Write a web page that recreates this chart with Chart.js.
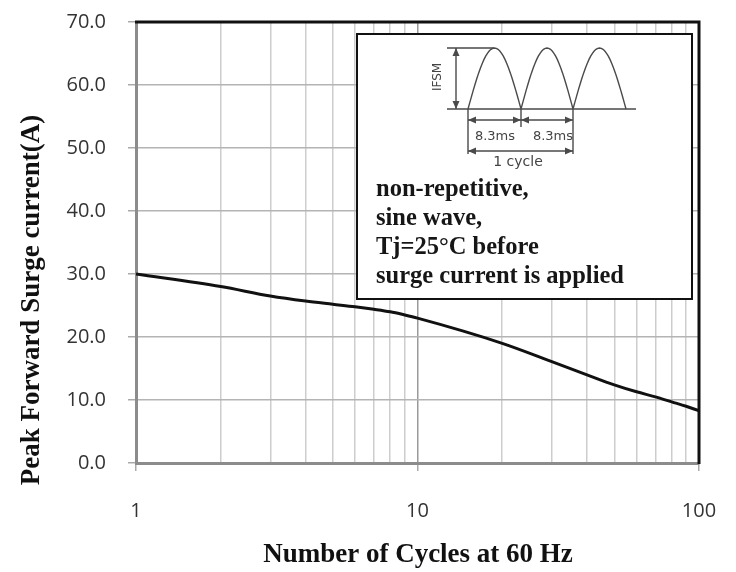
<!DOCTYPE html>
<html>
<head>
<meta charset="utf-8">
<title>Peak Forward Surge current</title>
<script src="https://cdn.jsdelivr.net/npm/chart.js@4.4.1/dist/chart.umd.min.js"></script>
<style>
    html, body { margin: 0; padding: 0; background: #fff; }
    #wrap { width: 736px; height: 572px; position: relative; }
</style>
</head>
<body>
<div id="wrap"><canvas id="surgeChart"></canvas></div>
<script>
// dados
const cycles = [1, 2, 3, 4, 5, 6, 7, 8, 9, 10, 20, 30, 40, 50, 60, 70, 80, 90, 100];
const surgeCurrent = [30.0, 28.0, 26.5, 25.7, 25.2, 24.8, 24.4, 24.0, 23.5, 23.0, 19.0, 16.1, 14.0, 12.4, 11.3, 10.5, 9.7, 9.0, 8.3];

// linhas de grade verticais e rótulos do eixo x
const xGridValues = [1, 2, 3, 4, 5, 6, 7, 8, 9, 10, 20, 30, 40, 50, 60, 70, 80, 90, 100];
const xTickLabels = [1, 10, 100];
const yTickStep = 10;

const xTitle = 'Number of Cycles at 60 Hz';
const yTitle = 'Peak Forward Surge current(A)';
const noteLines = ['non-repetitive,', 'sine wave,', 'Tj=25°C before', 'surge current is applied'];

// zerar o padding automático das escalas (o layout usa o padding fixo)
function resetScalePadding(scale) {
    scale.paddingTop = 0;
    scale.paddingBottom = 0;
    scale.paddingLeft = 0;
    scale.paddingRight = 0;
}

// Plugin para títulos, bordas e o quadro de observações
const decorPlugin = {
    id: 'decor',
    afterDatasetsDraw(chart) {
        const ctx = chart.ctx;
        const a = chart.chartArea;
        ctx.save();
        ctx.strokeStyle = '#111';
        ctx.lineWidth = 3;
        ctx.beginPath();
        ctx.moveTo(a.left - 1, a.top);
        ctx.lineTo(a.right, a.top);
        ctx.lineTo(a.right, a.bottom + 1);
        ctx.stroke();
        ctx.restore();
    },
    afterDraw(chart) {
        const ctx = chart.ctx;
        ctx.save();

        // título do eixo x
        ctx.fillStyle = '#111';
        ctx.font = 'bold 27px "Liberation Serif", "Times New Roman", serif';
        ctx.textAlign = 'center';
        ctx.textBaseline = 'middle';
        ctx.fillText(xTitle, 418, 555);

        // título do eixo y
        ctx.save();
        ctx.translate(32, 300);
        ctx.rotate(-Math.PI / 2);
        ctx.fillText(yTitle, 0, 0);
        ctx.restore();

        // quadro de observações
        const bx = 357, by = 34, bw = 335, bh = 265;
        ctx.fillStyle = '#fff';
        ctx.fillRect(bx, by, bw, bh);
        ctx.strokeStyle = '#111';
        ctx.lineWidth = 2;
        ctx.strokeRect(bx, by, bw, bh);

        drawWave(ctx);

        ctx.fillStyle = '#161616';
        ctx.font = 'bold 24.5px "Liberation Serif", "Times New Roman", serif';
        ctx.textAlign = 'left';
        ctx.textBaseline = 'middle';
        noteLines.forEach((line, i) => {
            ctx.fillText(line, 376, 190 + i * 29);
        });

        ctx.restore();
    }
};

// desenho da forma de onda (ilustração do quadro)
function drawWave(ctx) {
    const base = 109, peak = 48;
    const edges = [468, 521, 573, 626];
    ctx.save();
    ctx.strokeStyle = '#4a4a4a';
    ctx.fillStyle = '#4a4a4a';
    ctx.lineWidth = 1.4;

    ctx.beginPath();
    ctx.moveTo(447, base);
    ctx.lineTo(636, base);
    ctx.moveTo(447, peak);
    ctx.lineTo(494, peak);
    ctx.stroke();

    ctx.beginPath();
    for (let i = 0; i < 3; i++) {
        const x0 = edges[i], x1 = edges[i + 1];
        for (let s = 0; s <= 30; s++) {
            const t = s / 30;
            const x = x0 + (x1 - x0) * t;
            const y = base - (base - peak) * Math.sin(Math.PI * t);
            if (s === 0) ctx.moveTo(x, y); else ctx.lineTo(x, y);
        }
    }
    ctx.stroke();

    // linhas de cota
    ctx.beginPath();
    ctx.moveTo(468, base); ctx.lineTo(468, 154);
    ctx.moveTo(521, base); ctx.lineTo(521, 127);
    ctx.moveTo(573, base); ctx.lineTo(573, 154);
    ctx.stroke();

    arrowLine(ctx, 456, peak, 456, base);
    arrowLine(ctx, 468, 120, 521, 120);
    arrowLine(ctx, 521, 120, 573, 120);
    arrowLine(ctx, 468, 151, 573, 151);

    ctx.fillStyle = '#444';
    ctx.font = '13px "DejaVu Sans", Arial, sans-serif';
    ctx.textAlign = 'center';
    ctx.textBaseline = 'middle';
    ctx.fillText('8.3ms', 495, 137);
    ctx.fillText('8.3ms', 553, 137);
    ctx.font = '14px "DejaVu Sans", Arial, sans-serif';
    ctx.fillText('1 cycle', 518, 162);

    ctx.save();
    ctx.translate(438, 77);
    ctx.rotate(-Math.PI / 2);
    ctx.font = '12px "DejaVu Sans", Arial, sans-serif';
    ctx.fillText('IFSM', 0, 0);
    ctx.restore();

    ctx.restore();
}

function arrowLine(ctx, x1, y1, x2, y2) {
    const ang = Math.atan2(y2 - y1, x2 - x1);
    const h = 8, w = 3.5;
    ctx.beginPath();
    ctx.moveTo(x1, y1);
    ctx.lineTo(x2, y2);
    ctx.stroke();
    [[x1, y1, ang + Math.PI], [x2, y2, ang]].forEach(([x, y, a]) => {
        ctx.beginPath();
        ctx.moveTo(x, y);
        ctx.lineTo(x - h * Math.cos(a) + w * Math.sin(a), y - h * Math.sin(a) - w * Math.cos(a));
        ctx.lineTo(x - h * Math.cos(a) - w * Math.sin(a), y - h * Math.sin(a) + w * Math.cos(a));
        ctx.closePath();
        ctx.fill();
    });
}

const ctx = document.getElementById('surgeChart').getContext('2d');
window.surgeChart = new Chart(ctx, {
    type: 'line',
    data: {
        datasets: [{
            data: cycles.map((c, i) => ({ x: c, y: surgeCurrent[i] })),
            borderColor: '#111',
            borderWidth: 3,
            pointRadius: 0,
            cubicInterpolationMode: 'monotone',
            fill: false
        }]
    },
    options: {
        responsive: true,
        maintainAspectRatio: false,
        animation: false,
        layout: {
            padding: { top: 22, right: 37, left: 0, bottom: 0 }
        },
        plugins: {
            legend: { display: false },
            tooltip: { enabled: false }
        },
        scales: {
            x: {
                type: 'logarithmic',
                min: 1,
                max: 100,
                afterBuildTicks: function(scale) {
                    scale.ticks = xGridValues.map(v => ({ value: v }));
                },
                afterFit: function(scale) {
                    scale.height = 109;
                    resetScalePadding(scale);
                },
                ticks: {
                    autoSkip: false,
                    maxRotation: 0,
                    padding: 28,
                    color: '#333',
                    font: { family: '"Open Sans", sans-serif', size: 20 },
                    callback: function(value) {
                        return xTickLabels.includes(value) ? String(value) : '';
                    }
                },
                grid: {
                    color: ctx => ctx.tick && ctx.tick.value === 10 ? '#9a9a9a' : '#cdcdcd',
                    lineWidth: 1.5,
                    tickLength: 8,
                    tickColor: ctx => ctx.tick && xTickLabels.includes(ctx.tick.value) ? '#aaa' : 'rgba(0,0,0,0)'
                },
                border: { color: '#8c8c8c', width: 3 }
            },
            y: {
                min: 0,
                max: 70,
                afterFit: function(scale) {
                    scale.width = 136;
                    resetScalePadding(scale);
                },
                ticks: {
                    stepSize: yTickStep,
                    padding: 22,
                    color: '#333',
                    font: { family: '"Open Sans", sans-serif', size: 20 },
                    callback: function(value) {
                        return value.toFixed(1);
                    }
                },
                grid: {
                    color: '#b4b4b4',
                    lineWidth: 1.5,
                    tickLength: 8,
                    tickColor: '#aaa'
                },
                border: { color: '#8c8c8c', width: 3 }
            }
        }
    },
    plugins: [decorPlugin]
});
</script>
</body>
</html>
